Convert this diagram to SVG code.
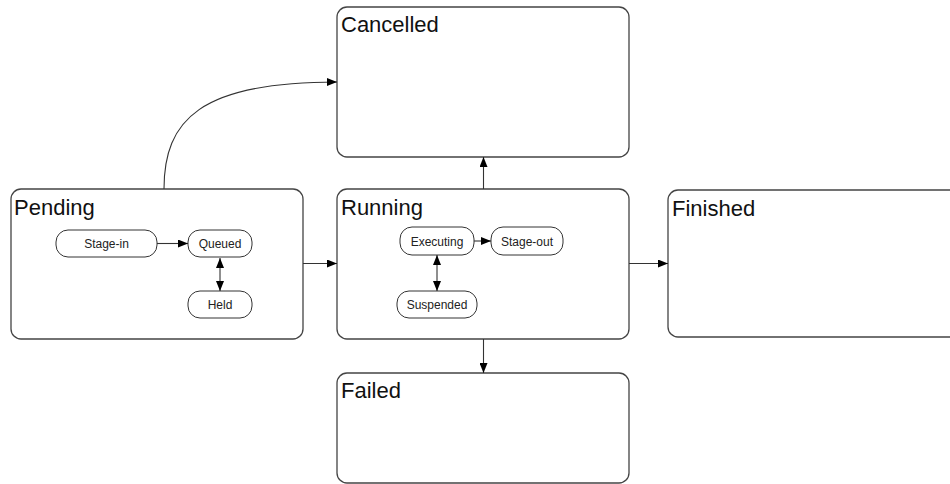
<svg xmlns="http://www.w3.org/2000/svg" width="950" height="484" viewBox="0 0 950 484">
<defs>
<marker id="ah" viewBox="0 0 10 8" refX="10" refY="4" markerWidth="10" markerHeight="8" markerUnits="userSpaceOnUse" orient="auto-start-reverse">
<path d="M0,0 L10,4 L0,8 Z" fill="#000"/>
</marker>
<style>
.big{fill:#fff;stroke:#444;stroke-width:1.3}
.sm{fill:#fff;stroke:#333;stroke-width:1}
.t{font-family:"Liberation Sans",Arial,sans-serif;font-size:22px;fill:#111}
.s{font-family:"Liberation Sans",Arial,sans-serif;font-size:12px;fill:#222;text-anchor:middle}
.c{fill:none;stroke:#333;stroke-width:1.1}
</style>
</defs>
<rect width="950" height="484" fill="#fff"/>
<g id="cancelled">
<rect class="big" x="337" y="7" width="292" height="150" rx="10"/>
<text class="t" x="341" y="32">Cancelled</text>
</g>
<g id="pending">
<rect class="big" x="11" y="189" width="292" height="150" rx="10"/>
<text class="t" x="14" y="215">Pending</text>
</g>
<g id="stage-in">
<rect class="sm" x="56" y="230" width="101" height="27" rx="12"/>
<text class="s" x="106.5" y="248">Stage-in</text>
</g>
<g id="queued">
<rect class="sm" x="188" y="230" width="64" height="27" rx="12"/>
<text class="s" x="220" y="248">Queued</text>
</g>
<g id="held">
<rect class="sm" x="188" y="291" width="64" height="27" rx="12"/>
<text class="s" x="220" y="309">Held</text>
</g>
<g id="running">
<rect class="big" x="337" y="189" width="292" height="150" rx="10"/>
<text class="t" x="341" y="215">Running</text>
</g>
<g id="executing">
<rect class="sm" x="400" y="227" width="74" height="28" rx="12"/>
<text class="s" x="437" y="245.5">Executing</text>
</g>
<g id="stage-out">
<rect class="sm" x="491" y="227" width="72" height="28" rx="12"/>
<text class="s" x="527" y="245.5">Stage-out</text>
</g>
<g id="suspended">
<rect class="sm" x="397" y="291" width="80" height="27" rx="12"/>
<text class="s" x="437" y="309">Suspended</text>
</g>
<g id="finished">
<rect class="big" x="668" y="190" width="300" height="147" rx="10"/>
<text class="t" x="672" y="216">Finished</text>
</g>
<g id="failed">
<rect class="big" x="337" y="373" width="292" height="110" rx="10"/>
<text class="t" x="341" y="398">Failed</text>
</g>
<g id="connectors">
<path class="c" d="M303,263.5 L337,263.5" marker-end="url(#ah)"/>
<path class="c" d="M629,263.5 L668,263.5" marker-end="url(#ah)"/>
<path class="c" d="M483.5,189 L483.5,157" marker-end="url(#ah)"/>
<path class="c" d="M483.5,339 L483.5,373" marker-end="url(#ah)"/>
<path class="c" d="M164,189 C164,120 200,82 337,82" marker-end="url(#ah)"/>
<path class="c" d="M157,243.5 L188,243.5" marker-end="url(#ah)"/>
<path class="c" d="M220,258 L220,291" marker-start="url(#ah)" marker-end="url(#ah)"/>
<path class="c" d="M474,241 L491,241" marker-end="url(#ah)"/>
<path class="c" d="M437,255 L437,291" marker-start="url(#ah)" marker-end="url(#ah)"/>
</g>
</svg>
